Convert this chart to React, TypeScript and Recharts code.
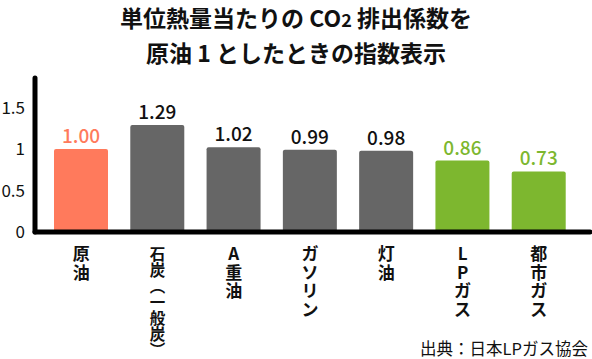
import { BarChart, Bar, XAxis, YAxis, Cell, LabelList } from 'recharts';

const FONT = '"Noto Sans CJK JP", "Noto Sans", sans-serif';

const categories = ['原油', '石炭︵一般炭︶', 'A重油', 'ガソリン', '灯油', 'LPガス', '都市ガス'];
const values = [1.0, 1.29, 1.02, 0.99, 0.98, 0.86, 0.73];
const valueLabels = ['1.00', '1.29', '1.02', '0.99', '0.98', '0.86', '0.73'];
const yTicks = [0, 0.5, 1, 1.5];

const BAR_COLORS = ['#FF7A5C', '#666666', '#666666', '#666666', '#666666', '#7DB72F', '#7DB72F'];
const LABEL_COLORS = ['#FF7A5C', '#111111', '#111111', '#111111', '#111111', '#7DB72F', '#7DB72F'];

const chartData = categories.map((name, i) => ({ name, value: values[i], label: valueLabels[i] }));

function VerticalTick({ x, y, payload }: any) {
  const chars = Array.from(String(payload.value));
  const long = chars.length > 5;
  const step = long ? 16 : 18.5;
  const size = long ? 15.5 : 17;
  return (
    <text x={x} y={y} textAnchor="middle" fontFamily={FONT} fontWeight={700} fontSize={size} fill="#111">
      {chars.map((c, i) => (
        <tspan key={i} x={x} y={y + 28 + i * step}>
          {c}
        </tspan>
      ))}
    </text>
  );
}

function ValueLabel(props: any) {
  const { x, y, width, index } = props;
  const i = typeof index === 'number' ? index : values.indexOf(props.value);
  return (
    <text
      x={x + width / 2}
      y={y - 6}
      textAnchor="middle"
      fontFamily={FONT}
      fontSize={19}
      fontWeight={500}
      fill={LABEL_COLORS[i] ?? '#111'}
    >
      {valueLabels[i]}
    </text>
  );
}

export default function App() {
  return (
    <div style={{ position: 'absolute', left: 0, top: 0, width: 592, height: 359, background: '#fff' }}>
      <div
        style={{
          position: 'absolute',
          left: 0,
          top: 1,
          width: 592,
          textAlign: 'center',
          fontFamily: FONT,
          fontWeight: 700,
          fontSize: 23,
          lineHeight: '33px',
          color: '#111',
        }}
      >
        <div>
          単位熱量当たりの CO<span style={{ fontSize: 18 }}>2</span> 排出係数を
        </div>
        <div>原油 1 としたときの指数表示</div>
      </div>
      <BarChart width={592} height={359} data={chartData} margin={{ top: 78, right: 2, bottom: 0, left: 0 }}>
        <YAxis
          width={35}
          domain={[0, 1.855]}
          ticks={yTicks}
          tickLine={false}
          tickSize={0}
          tickMargin={10}
          axisLine={{ stroke: '#000', strokeWidth: 5, strokeLinecap: 'round' }}
          tick={{ fontFamily: FONT, fontSize: 17, fill: '#111' }}
          tickFormatter={(v: number) => String(v)}
        />
        <XAxis
          dataKey="name"
          height={127}
          interval={0}
          padding={{ left: 8, right: 13 }}
          tickLine={false}
          tickSize={0}
          tickMargin={0}
          axisLine={{ stroke: '#000', strokeWidth: 5, strokeLinecap: 'round' }}
          tick={<VerticalTick />}
        />
        <Bar dataKey="value" barSize={54} radius={[2, 2, 0, 0]} isAnimationActive={false}>
          {chartData.map((_, i) => (
            <Cell key={i} fill={BAR_COLORS[i]} />
          ))}
          <LabelList dataKey="value" content={<ValueLabel />} />
        </Bar>
      </BarChart>
      <div
        style={{
          position: 'absolute',
          right: 4,
          top: 336,
          fontFamily: FONT,
          fontSize: 16.5,
          color: '#111',
          whiteSpace: 'nowrap',
        }}
      >
        出典：日本LPガス協会
      </div>
    </div>
  );
}
